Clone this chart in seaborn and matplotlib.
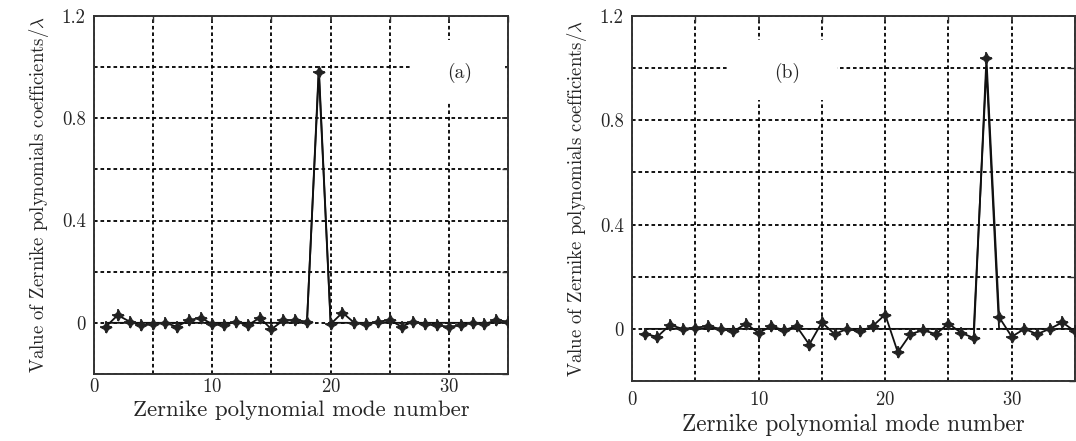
import numpy as np
import pandas as pd
import seaborn as sns
import matplotlib.pyplot as plt
from matplotlib.patches import Rectangle
from matplotlib.ticker import MultipleLocator

modes = list(range(1, 36))

# panel (a): single mode aberration at mode 19
true_a = [0.0] * 35
true_a[18] = 1.0
recon_a = [-0.015, 0.03, 0.005, -0.01, -0.005, 0.0, -0.015, 0.01, 0.02, -0.005,
           -0.01, 0.005, -0.01, 0.02, -0.025, 0.01, 0.01, 0.005, 0.98, -0.005,
           0.04, 0.0, -0.005, 0.005, 0.01, -0.015, 0.005, -0.005, -0.01, -0.015,
           -0.01, 0.0, -0.005, 0.01, 0.005]

# panel (b): single mode aberration at mode 28
true_b = [0.0] * 35
true_b[27] = 1.0
recon_b = [-0.02, -0.03, 0.015, 0.0, 0.005, 0.01, 0.0, -0.01, 0.02, -0.015,
           0.01, -0.005, 0.01, -0.06, 0.025, -0.02, 0.0, -0.01, 0.01, 0.055,
           -0.09, -0.02, -0.005, -0.02, 0.02, -0.015, -0.035, 1.04, 0.045, -0.03,
           0.0, -0.02, 0.0, 0.025, -0.01]

xlabel = "Zernike polynomial mode number"
ylabel = r"Value of Zernike polynomials coefficients/$\lambda$"

sns.set_theme(style="white")
plt.rcParams["font.family"] = ["cmr10", "DejaVu Serif"]
plt.rcParams["mathtext.fontset"] = "cm"
plt.rcParams["axes.formatter.use_mathtext"] = True
plt.rcParams["axes.unicode_minus"] = False

fig = plt.figure(figsize=(10.76, 4.41), dpi=100)
ax_a = fig.add_axes([0.0874, 0.152, 0.3848, 0.8118])
ax_b = fig.add_axes([0.5874, 0.136, 0.4117, 0.8277])

panels = [
    (ax_a, true_a, recon_a, "(a)", (0.763, 0.760, 0.23, 0.173), (0.884, 0.841), 3, 3, 16.5),
    (ax_b, true_b, recon_b, "(b)", (0.216, 0.770, 0.246, 0.164), (0.349, 0.844), 7, 4, 16.8),
]

for ax, true_v, recon_v, tag, box, tag_pos, xpad, lpad, xl_size in panels:
    df = pd.DataFrame({"mode": modes, "true": true_v, "recon": recon_v})
    ax.set_axisbelow(True)
    sns.lineplot(data=df, x="mode", y="true", ax=ax, color="#111111", lw=1.3, zorder=3)
    sns.lineplot(data=df, x="mode", y="recon", ax=ax, color="#111111", lw=1.3,
                 marker=(4, 1, 0), markersize=8, markeredgewidth=0.8,
                 markerfacecolor="#222222", markeredgecolor="#222222", zorder=4)
    # the star glyph also has a cross through it
    sns.scatterplot(data=df, x="mode", y="recon", ax=ax, marker="+", s=70,
                    color="#222222", linewidth=1.2, zorder=5)

    ax.set_xlim(0, 35)
    ax.set_ylim(-0.2, 1.2)
    ax.xaxis.set_major_locator(MultipleLocator(10))
    ax.xaxis.set_minor_locator(MultipleLocator(5))
    ax.yaxis.set_minor_locator(MultipleLocator(0.2))
    ax.set_yticks([0, 0.4, 0.8, 1.2])
    ax.set_yticklabels(["0", "0.4", "0.8", "1.2"])
    ax.grid(True, which="both", color="black", linestyle=(0, (2, 1.6)), lw=1.3)
    ax.tick_params(which="both", direction="in", length=4, color="#333333",
                   top=True, right=True, labelsize=13.5)
    ax.tick_params(axis="x", pad=xpad)
    ax.tick_params(axis="y", pad=6)

    ax.add_patch(Rectangle(box[:2], box[2], box[3], transform=ax.transAxes,
                           facecolor="white", edgecolor="none", zorder=1))
    ax.text(tag_pos[0], tag_pos[1], tag, transform=ax.transAxes, fontsize=14,
            ha="center", va="center", zorder=6)

    ax.set_xlabel(xlabel, fontsize=xl_size, labelpad=lpad)
    ax.set_ylabel(ylabel, fontsize=13.5, labelpad=8)
    for s in ax.spines.values():
        s.set_color("#333333")
        s.set_linewidth(1.4)

plt.savefig("out.png", dpi=100)
